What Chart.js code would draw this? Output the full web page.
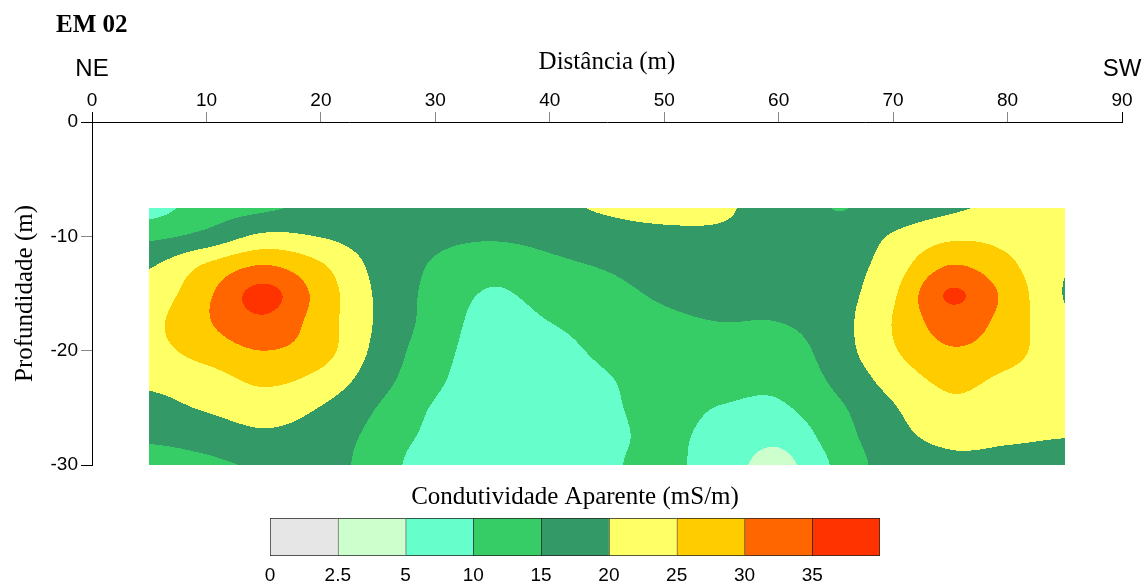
<!DOCTYPE html>
<html>
<head>
<meta charset="utf-8">
<script src="https://cdn.jsdelivr.net/npm/chart.js@4.4.1/dist/chart.umd.min.js"></script>
<style>
  html, body { margin: 0; padding: 0; background: #fff; }
  #wrap { position: relative; width: 1142px; height: 583px; }
  #main { position: absolute; left: 0; top: 0; }
  #bar { position: absolute; left: 0; top: 470px; }
</style>
</head>
<body>
<div id="wrap">
  <canvas id="main" width="1142" height="583"></canvas>
  <canvas id="bar" width="1142" height="113"></canvas>
</div>
<script>
// malha de medidas: distancia (m) x profundidade (m)
const distances = [5, 10, 15, 20, 25, 30, 35, 40, 45, 50, 55, 60, 65, 70, 75, 80, 85];
const depths = [-7.5, -10, -12.5, -15, -17.5, -20, -22.5, -25, -27.5, -30];

// condutividade aparente (mS/m), uma linha por profundidade
const cond = [
  [8, 12.5, 14.3, 16, 17, 16.5, 17, 19, 20.5, 21.3, 20.4, 18.5, 14.9, 17, 19.3, 21, 22],
  [14, 16.5, 21, 19.8, 17.5, 16, 15.5, 16.5, 18, 19, 19.5, 19, 16.5, 20.5, 24, 23.5, 21],
  [19.5, 25.5, 30, 25.5, 18.5, 14.5, 12, 14, 15.5, 17.5, 18.5, 18.5, 17.5, 22.5, 30, 26, 20.3],
  [22, 29, 36.5, 28, 19.2, 13.5, 9.5, 12, 13.5, 15.8, 17, 17.5, 18, 24.3, 35.5, 28.5, 19.8],
  [23.8, 29.5, 34, 27.5, 19.3, 13, 8, 10, 12, 14, 15, 15, 18, 25.2, 32.5, 28, 20.6],
  [23.5, 27, 30, 27, 18.5, 12, 7.5, 8.5, 11, 13, 13, 12.5, 17.5, 24.5, 29.5, 27, 21.5],
  [21, 23, 26, 23.5, 17, 11, 7, 7.5, 9.7, 12, 11.8, 11.2, 16, 22, 26.2, 24, 21.5],
  [18.5, 20.5, 22.5, 19.8, 14.8, 9.5, 6.5, 7, 9.3, 11.3, 9.8, 9.3, 14, 19.6, 23.8, 22.3, 21],
  [15.8, 17, 19, 17.5, 13.5, 8.5, 6.5, 6.5, 9, 10.8, 8.5, 6.2, 12.5, 18.5, 21, 20.6, 20.1],
  [13, 14.2, 15.6, 16.5, 12.8, 6.5, 6.5, 6.5, 9.3, 11, 7.5, 3.5, 10.8, 17.5, 19.2, 18.8, 18]
];

// escala de cores
const levels = [0, 2.5, 5, 10, 15, 20, 25, 30, 35];
const levelLabels = ['0', '2.5', '5', '10', '15', '20', '25', '30', '35'];
const colors = ['#E6E6E6', '#CCFFCC', '#66FFCC', '#36CC66', '#339966', '#FFFF66', '#FFCC00', '#FF6600', '#FF3300'];

const SANS = "'Liberation Sans', Arial, sans-serif";
const SERIF = "'Liberation Serif', 'Times New Roman', serif";

function hexToRgb(h) {
  return [parseInt(h.slice(1, 3), 16), parseInt(h.slice(3, 5), 16), parseInt(h.slice(5, 7), 16)];
}
const rgb = colors.map(hexToRgb);

function cell(r, c) {
  r = Math.max(0, Math.min(cond.length - 1, r));
  c = Math.max(0, Math.min(distances.length - 1, c));
  return cond[r][c];
}

function cr(p0, p1, p2, p3, t) {
  return p1 + 0.5 * t * (p2 - p0 + t * (2 * p0 - 5 * p1 + 4 * p2 - p3 + t * (3 * (p1 - p2) + p3 - p0)));
}

// interpolacao bicubica (Catmull-Rom) na malha
function sample(xv, dv) {
  const fx = (xv - distances[0]) / (distances[1] - distances[0]);
  const fy = (dv - depths[0]) / (depths[1] - depths[0]);
  const ix = Math.min(Math.floor(fx), distances.length - 2);
  const iy = Math.min(Math.floor(fy), depths.length - 2);
  const tx = fx - ix, ty = fy - iy;
  const rows = [];
  for (let k = -1; k <= 2; k++) {
    rows.push(cr(cell(iy + k, ix - 1), cell(iy + k, ix), cell(iy + k, ix + 1), cell(iy + k, ix + 2), tx));
  }
  return cr(rows[0], rows[1], rows[2], rows[3], ty);
}

function bandOf(v) {
  let b = 0;
  for (let i = 0; i < levels.length; i++) if (v >= levels[i]) b = i;
  return b;
}

const contourPlugin = {
  id: 'contour',
  beforeDatasetsDraw(chart) {
    const { ctx, scales: { x, y } } = chart;
    const x0 = Math.round(x.getPixelForValue(distances[0]));
    const x1 = Math.round(x.getPixelForValue(distances[distances.length - 1]));
    const y0 = Math.round(y.getPixelForValue(depths[0]));
    const y1 = Math.round(y.getPixelForValue(depths[depths.length - 1]));
    const w = x1 - x0, h = y1 - y0;
    const off = document.createElement('canvas');
    off.width = w; off.height = h;
    const octx = off.getContext('2d');
    const img = octx.createImageData(w, h);
    for (let j = 0; j < h; j++) {
      const dv = y.getValueForPixel(y0 + j + 0.5);
      for (let i = 0; i < w; i++) {
        const xv = x.getValueForPixel(x0 + i + 0.5);
        const c = rgb[bandOf(sample(xv, dv))];
        const p = (j * w + i) * 4;
        img.data[p] = c[0]; img.data[p + 1] = c[1]; img.data[p + 2] = c[2]; img.data[p + 3] = 255;
      }
    }
    octx.putImageData(img, 0, 0);
    ctx.drawImage(off, x0, y0);
  }
};

const labelsPlugin = {
  id: 'labels',
  afterDraw(chart) {
    const { ctx, scales: { x } } = chart;
    ctx.save();
    ctx.fillStyle = '#000';
    ctx.textBaseline = 'alphabetic';
    ctx.font = 'bold 25px ' + SERIF;
    ctx.textAlign = 'left';
    ctx.fillText('EM 02', 56, 32);
    ctx.font = '24px ' + SANS;
    ctx.textAlign = 'center';
    ctx.fillText('NE', x.getPixelForValue(0), 76);
    ctx.fillText('SW', x.getPixelForValue(90), 76);
    ctx.restore();
  }
};

const gridPoints = [];
depths.forEach((d, r) => distances.forEach((xv, c) => gridPoints.push({ x: xv, y: d, v: cond[r][c] })));

const endTick = (lo, hi) => (c) => (c.tick && (c.tick.value === lo || c.tick.value === hi)) ? '#000' : '#888';

new Chart(document.getElementById('main'), {
  type: 'scatter',
  data: {
    datasets: [{ label: 'Condutividade', data: gridPoints, pointRadius: 0, showLine: false }]
  },
  options: {
    responsive: false,
    animation: false,
    layout: { padding: { left: 0, top: 0, right: 20, bottom: 118 } },
    plugins: { legend: { display: false }, tooltip: { enabled: false } },
    scales: {
      x: {
        type: 'linear', position: 'top', min: 0, max: 90,
        ticks: { stepSize: 10, color: '#000', padding: 0, maxRotation: 0, font: { family: SANS, size: 19 } },
        grid: { drawOnChartArea: false, tickLength: 10, tickColor: endTick(0, 90) },
        border: { color: '#000', width: 1 },
        title: { display: true, text: 'Distância (m)', color: '#000', font: { family: SERIF, size: 25 }, padding: { top: 47, bottom: 0 } },
        afterFit: (s) => { s.height = 122; }
      },
      y: {
        type: 'linear', min: -30, max: 0,
        ticks: { stepSize: 10, color: '#000', padding: 3, font: { family: SANS, size: 19 } },
        grid: { drawOnChartArea: false, tickLength: 11, tickColor: endTick(0, -30) },
        border: { color: '#000', width: 1 },
        title: { display: true, text: 'Profundidade (m)', color: '#000', font: { family: SERIF, size: 25 }, padding: { top: 10, bottom: 0 } },
        afterFit: (s) => { s.width = 92; }
      }
    }
  },
  plugins: [contourPlugin, labelsPlugin]
});

// barra de cores
new Chart(document.getElementById('bar'), {
  type: 'bar',
  data: {
    labels: [''],
    datasets: levels.map((lv, i) => ({
      label: levelLabels[i],
      data: [1],
      backgroundColor: colors[i],
      borderColor: '#222',
      borderWidth: { top: 1, bottom: 1, left: 1, right: i === levels.length - 1 ? 1 : 0 },
      borderSkipped: false,
      barPercentage: 1,
      categoryPercentage: 1
    }))
  },
  options: {
    indexAxis: 'y',
    responsive: false,
    animation: false,
    layout: { padding: { left: 270, right: 262, top: 0, bottom: 0 } },
    plugins: {
      legend: { display: false },
      tooltip: { enabled: false },
      title: { display: true, text: 'Condutividade Aparente (mS/m)', color: '#000', font: { family: SERIF, size: 25, weight: 'normal' }, padding: { top: 12, bottom: 6 } }
    },
    scales: {
      x: {
        stacked: true, min: 0, max: levels.length,
        grid: { display: false, drawTicks: false },
        border: { display: false },
        ticks: { stepSize: 1, autoSkip: false, maxRotation: 0, padding: 8, color: '#000', font: { family: SANS, size: 19 },
          callback: (v) => levelLabels[v] ?? '' },
        afterFit: (s) => { s.height = 27; }
      },
      y: { stacked: true, display: false }
    }
  }
});
</script>
</body>
</html>
